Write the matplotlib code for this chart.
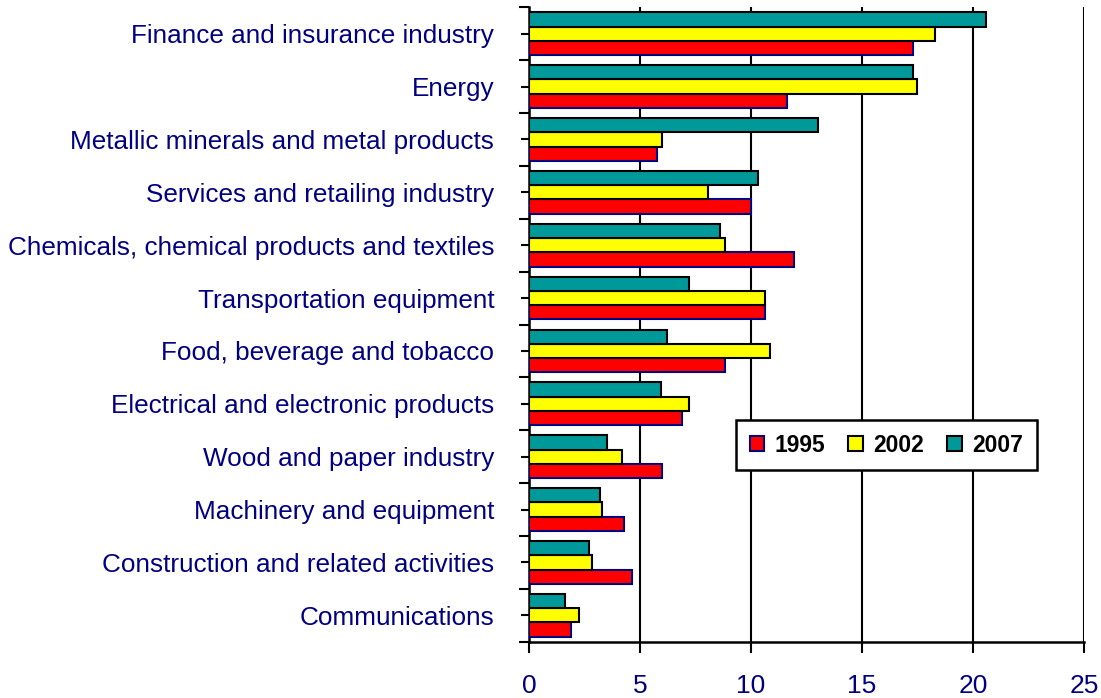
import numpy as np
import matplotlib
matplotlib.use("Agg")
import matplotlib.pyplot as plt
from matplotlib.ticker import MultipleLocator

# categories listed top to bottom, as in the picture
categories = [
    "Finance and insurance industry",
    "Energy",
    "Metallic minerals and metal products",
    "Services and retailing industry",
    "Chemicals, chemical products and textiles",
    "Transportation equipment",
    "Food, beverage and tobacco",
    "Electrical and electronic products",
    "Wood and paper industry",
    "Machinery and equipment",
    "Construction and related activities",
    "Communications",
]
vals_1995 = [17.3, 11.6, 5.75, 10.0, 11.95, 10.65, 8.85, 6.9, 6.0, 4.3, 4.65, 1.9]
vals_2002 = [18.3, 17.5, 6.0, 8.05, 8.85, 10.65, 10.85, 7.2, 4.2, 3.3, 2.85, 2.25]
vals_2007 = [20.6, 17.3, 13.0, 10.3, 8.6, 7.2, 6.2, 5.95, 3.5, 3.2, 2.7, 1.6]
years = ["1995", "2002", "2007"]

plt.rcParams['font.family'] = ['Liberation Sans', 'DejaVu Sans']
navy = "#000080"

fig = plt.figure(figsize=(11.01, 6.98), dpi=100)
ax = fig.add_axes([0.4805, 0.0807, 0.504, 0.9088])

n = len(categories)
y = np.arange(n)[::-1]  # top category gets highest y
h = 0.27

ax.barh(y - h, vals_1995, height=h, color="#FF0000", edgecolor=navy, linewidth=1.5, label=years[0], zorder=3)
ax.barh(y, vals_2002, height=h, color="#FFFF00", edgecolor="black", linewidth=1.5, label=years[1], zorder=3)
ax.barh(y + h, vals_2007, height=h, color="#009999", edgecolor="black", linewidth=1.5, label=years[2], zorder=3)

ax.set_xlim(0, 25)
ax.set_ylim(-0.5, n - 0.5)
ax.xaxis.set_major_locator(MultipleLocator(5))
ax.grid(axis="x", color="black", linewidth=1.5, zorder=0)

# category labels on centre ticks, boundary ticks as major
ax.set_yticks(np.arange(-0.5, n, 1.0))
ax.set_yticklabels([])
ax.set_yticks(y, minor=True)
ax.set_yticklabels(categories, minor=True, color=navy, fontsize=18.85)
ax.tick_params(axis="y", which="major", length=7, width=1.5, direction="out")
ax.tick_params(axis="y", which="minor", length=12, width=1.5, direction="inout", pad=19)
ax.tick_params(axis="x", length=8, width=1.5, direction="out", labelsize=19, labelcolor=navy, pad=15)

for s in ["top", "right"]:
    ax.spines[s].set_visible(False)
for s in ["left", "bottom"]:
    ax.spines[s].set_linewidth(1.8)

leg = ax.legend(loc="center", bbox_to_anchor=(0.644, 0.31), ncol=3, frameon=True, fancybox=False,
                framealpha=1, prop={"weight": "bold", "size": 16.5}, handlelength=0.65,
                handleheight=0.65, handletextpad=0.45, columnspacing=1.0, borderpad=0.6,
                borderaxespad=0, edgecolor="black")
leg.get_frame().set_linewidth(1.8)
leg.set_zorder(5)

fig.savefig("out.png", dpi=100)
